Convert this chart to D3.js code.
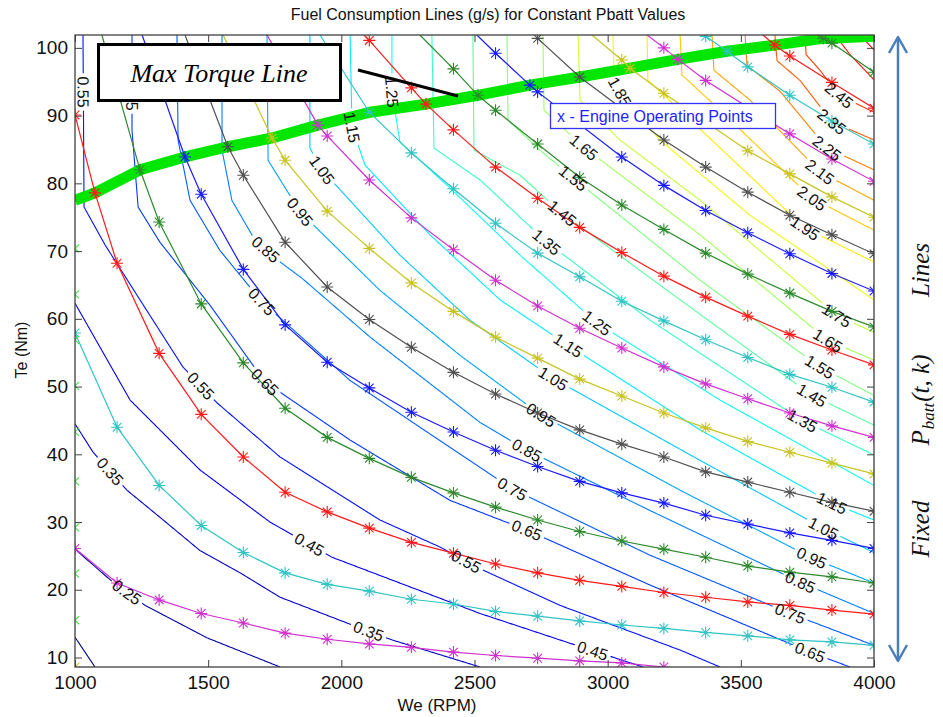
<!DOCTYPE html>
<html>
<head>
<meta charset="utf-8">
<script src="https://cdn.jsdelivr.net/npm/d3@7"></script>
<style>
  body { margin: 0; background: #fff; }
  svg { display: block; font-family: "Liberation Sans", Arial, sans-serif; }
</style>
</head>
<body>
<svg id="chart" width="943" height="717"></svg>
<script>
// ---------------- data ----------------
// Axis ticks
const xTicks = [1000, 1500, 2000, 2500, 3000, 3500, 4000];
const yTicks = [10, 20, 30, 40, 50, 60, 70, 80, 90, 100];

// Iso fuel-consumption contour levels (g/s) and their traced polylines [We, Te]
const contourLevels = [0.15, 0.25, 0.35, 0.45, 0.55, 0.65, 0.75, 0.85, 0.95, 1.05, 1.15, 1.25, 1.35,
  1.45, 1.55, 1.65, 1.75, 1.85, 1.95, 2.05, 2.15, 2.25, 2.35, 2.45, 2.55, 2.65];
const contourLines = [
  [[1000, 13.0], [1075, 8.6]],
  [[1000, 26.0], [1143, 21.1], [1263, 17.7], [1496, 12.9], [1770, 8.6]],
  [[1000, 44.5], [1068, 40.3], [1195, 34.7], [1319, 30.7], [1469, 25.8], [1620, 22.5], [1770, 18.9], [2021, 15.1], [2190, 12.6], [2521, 8.6]],
  [[1000, 62.3], [1207, 48.0], [1469, 37.7], [1732, 30.0], [1965, 24.8], [2521, 16.5], [2859, 12.1], [3133, 8.6]],
  [[1030, 101.9], [1034, 76.5], [1113, 70.9], [1244, 62.8], [1405, 52.9], [1533, 47.6], [1770, 39.6], [2145, 30.3], [2371, 26.3], [2510, 23.3], [2821, 17.7], [3272, 11.1], [3422, 8.6]],
  [[1214, 101.9], [1214, 87.9], [1237, 76.5], [1319, 71.3], [1507, 62.0], [1713, 50.7], [2033, 42.1], [2408, 33.2], [2697, 28.8], [3159, 20.7], [3760, 10.8], [3910, 8.6]],
  [[1383, 101.9], [1387, 86.4], [1432, 77.5], [1544, 70.1], [1702, 62.5], [2033, 50.9], [2641, 34.9], [3159, 25.1], [3685, 16.5], [4000, 11.8]],
  [[1552, 101.9], [1552, 84.9], [1589, 77.5], [1676, 71.6], [1770, 68.4], [1852, 66.0], [2108, 57.3], [2521, 44.7], [2697, 40.6], [3159, 31.7], [3730, 21.0], [4000, 16.5]],
  [[1721, 101.9], [1725, 83.4], [1845, 75.8], [2145, 64.2], [2446, 54.6], [2750, 45.8], [3272, 34.7], [3767, 24.7], [4000, 21.0]],
  [[1882, 101.9], [1882, 85.2], [1927, 82.0], [2220, 69.4], [2483, 59.8], [2795, 51.2], [3347, 39.1], [3809, 29.1], [4000, 25.5]],
  [[2033, 101.9], [2040, 88.3], [2089, 82.7], [2333, 72.4], [2596, 62.8], [2851, 56.1], [3347, 43.6], [3842, 32.8], [4000, 30.3]],
  [[2190, 101.9], [2190, 93.5], [2220, 86.1], [2408, 79.3], [2671, 69.4], [2960, 59.4], [3422, 48.0], [4000, 35.4]],
  [[2340, 101.9], [2348, 85.2], [2521, 80.5], [2772, 71.3], [3159, 59.8], [3730, 45.0], [4000, 39.9]],
  [[2494, 101.9], [2498, 84.9], [2671, 81.2], [2829, 75.6], [3272, 62.8], [3767, 48.7], [4000, 44.3]],
  [[2622, 101.9], [2626, 89.3], [2746, 84.9], [2870, 80.8], [3347, 65.7], [3797, 52.9], [4000, 48.7]],
  [[2757, 101.9], [2761, 90.8], [2840, 87.9], [2911, 85.3], [3347, 72.4], [3827, 56.8], [4000, 53.9]],
  [[2889, 101.9], [2896, 92.3], [3046, 86.4], [3347, 77.5], [3861, 60.5], [4000, 58.0]],
  [[3020, 101.9], [3024, 96.0], [3046, 93.5], [3196, 86.4], [3534, 75.3], [4000, 62.8]],
  [[3148, 101.9], [3151, 95.2], [3272, 90.8], [3741, 73.4], [4000, 68.4]],
  [[3272, 101.9], [3279, 96.0], [3422, 90.8], [3767, 77.8], [4000, 73.1]],
  [[3392, 101.9], [3399, 96.7], [3534, 92.3], [3797, 81.7], [4000, 77.5]],
  [[3516, 101.9], [3523, 97.4], [3647, 93.6], [3824, 85.2], [4000, 82.0]],
  [[3628, 101.9], [3636, 98.1], [3722, 95.2], [3842, 89.1], [4000, 86.4]],
  [[3741, 101.9], [3745, 99.0], [3797, 96.7], [3869, 93.0], [4000, 90.5]],
  [[3854, 101.9], [3910, 99.0], [4000, 95.3]],
  [[3947, 101.9], [4000, 99.7]]
];
// Inline contour labels: [level, We, Te]
const contourLabels = [
  [0.25, 1195, 19.6],
  [0.35, 1131, 37.5], [0.35, 2100, 13.7],
  [0.45, 1879, 26.6], [0.45, 2945, 11.1],
  [0.55, 1038, 93.5], [0.55, 1469, 49.9], [0.55, 2476, 24.8],
  [0.65, 1214, 93.0], [0.65, 1713, 50.6], [0.65, 2697, 28.8], [0.65, 3760, 10.8],
  [0.75, 1702, 62.5], [0.75, 2641, 34.9], [0.75, 3685, 16.5],
  [0.85, 1700, 69.6], [0.85, 2697, 40.6], [0.85, 3722, 21.0],
  [0.95, 1845, 75.8], [0.95, 2750, 45.8], [0.95, 3767, 24.7],
  [1.05, 1927, 82.0], [1.05, 2795, 51.2], [1.05, 3809, 29.1],
  [1.15, 2040, 88.3], [1.15, 2851, 56.1], [1.15, 3842, 32.8],
  [1.25, 2190, 93.5], [1.25, 2960, 59.4],
  [1.35, 2772, 71.3], [1.35, 3730, 45.0],
  [1.45, 2829, 75.6], [1.45, 3767, 48.7],
  [1.55, 2870, 80.8], [1.55, 3797, 52.9],
  [1.65, 2911, 85.3], [1.65, 3827, 56.8],
  [1.75, 3861, 60.5],
  [1.85, 3046, 93.5],
  [1.95, 3741, 73.4],
  [2.05, 3767, 77.8],
  [2.15, 3797, 81.7],
  [2.25, 3824, 85.2],
  [2.35, 3842, 89.1],
  [2.45, 3869, 93.0]
];

// Maximum torque curve [We, Te]
const maxTorqueWe = [1000, 1075, 1244, 1413, 1574, 1740, 1912, 2108, 2318, 2513, 2708, 2896, 3084, 3264, 3448, 3628, 3809, 4000];
const maxTorqueTe = [77.5, 78.6, 82.0, 83.9, 85.4, 86.7, 88.6, 90.5, 91.7, 93.0, 94.5, 95.7, 97.0, 98.3, 99.5, 100.4, 101.4, 101.7];

// Engine operating points along each fixed-Pbatt line [We, Te]
const pb01 = [[1000, 26.1], [1158, 21.0], [1316, 18.5], [1474, 16.5], [1632, 15.1], [1789, 13.6], [1947, 12.7], [2105, 12.0], [2263, 11.5], [2421, 10.8], [2579, 10.3], [2737, 9.9], [2895, 9.5], [3053, 9.2], [3211, 8.6]];
const pb02 = [[1000, 57.9], [1158, 44.0], [1316, 35.4], [1474, 29.5], [1632, 25.5], [1789, 22.5], [1947, 20.8], [2105, 19.8], [2263, 18.6], [2421, 17.9], [2579, 16.8], [2737, 16.1], [2895, 15.4], [3053, 14.8], [3211, 14.3], [3368, 13.7], [3526, 13.2], [3684, 12.6], [3842, 12.3], [4000, 11.8]];
const pb03 = [[1000, 90.1], [1075, 78.6], [1158, 68.2], [1316, 54.9], [1474, 45.9], [1632, 39.6], [1789, 34.4], [1947, 31.5], [2105, 29.1], [2263, 27.0], [2421, 25.4], [2579, 23.8], [2737, 22.5], [2895, 21.4], [3053, 20.5], [3211, 19.6], [3368, 18.9], [3526, 18.2], [3684, 17.7], [3842, 17.0], [4000, 16.4]];
const pb04 = [[1244, 82.0], [1316, 74.3], [1474, 62.2], [1632, 53.5], [1789, 46.8], [1947, 42.5], [2105, 39.4], [2263, 36.6], [2421, 34.3], [2579, 32.2], [2737, 30.3], [2895, 28.6], [3053, 27.2], [3211, 26.0], [3368, 24.8], [3526, 23.5], [3684, 22.6], [3842, 21.9], [4000, 21.0]];
const pb05 = [[1413, 83.9], [1474, 78.4], [1632, 67.3], [1789, 59.1], [1947, 53.6], [2105, 49.8], [2263, 46.2], [2421, 43.3], [2579, 40.6], [2737, 38.2], [2895, 36.0], [3053, 34.3], [3211, 32.8], [3368, 31.0], [3526, 29.7], [3684, 28.4], [3842, 27.3], [4000, 26.1]];
const pb06 = [[1574, 85.4], [1632, 81.2], [1789, 71.3], [1947, 64.7], [2105, 59.9], [2263, 55.8], [2421, 52.1], [2579, 48.9], [2737, 46.1], [2895, 43.6], [3053, 41.5], [3211, 39.6], [3368, 37.4], [3526, 35.9], [3684, 34.4], [3842, 32.9], [4000, 31.6]];
const pb07 = [[1740, 86.7], [1789, 83.4], [1947, 75.9], [2105, 70.4], [2263, 65.3], [2421, 61.1], [2579, 57.3], [2737, 54.2], [2895, 51.1], [3053, 48.6], [3211, 46.1], [3368, 43.9], [3526, 41.9], [3684, 40.3], [3842, 38.7], [4000, 37.1]];
const pb08 = [[1912, 88.6], [1947, 87.0], [2105, 80.5], [2263, 74.9], [2421, 70.2], [2579, 65.7], [2737, 61.9], [2895, 58.6], [3053, 55.7], [3211, 52.9], [3368, 50.4], [3526, 48.2], [3684, 46.1], [3842, 44.2], [4000, 42.5]];
const pb09 = [[2105, 90.5], [2263, 84.5], [2421, 79.2], [2579, 74.1], [2737, 69.7], [2895, 66.2], [3053, 62.6], [3211, 59.7], [3368, 56.9], [3526, 54.3], [3684, 51.8], [3842, 49.9], [4000, 47.7]];
const pb10 = [[2105, 101.1], [2263, 94.1], [2318, 91.7], [2421, 87.9], [2579, 82.4], [2737, 77.8], [2895, 73.5], [3053, 69.8], [3211, 66.3], [3368, 63.2], [3526, 60.4], [3684, 57.7], [3842, 55.4], [4000, 53.2]];
const pb11 = [[2421, 96.9], [2513, 93.0], [2579, 90.8], [2737, 85.8], [2895, 80.9], [3053, 76.8], [3211, 73.2], [3368, 69.7], [3526, 66.6], [3684, 63.8], [3842, 61.1], [4000, 58.8]];
const pb12 = [[2579, 99.2], [2708, 94.5], [2737, 93.5], [3053, 83.9], [3211, 79.7], [3368, 76.0], [3526, 72.7], [3684, 69.6], [3842, 66.7], [4000, 64.1]];
const pb13 = [[2737, 101.4], [2895, 95.7], [3211, 86.4], [3368, 82.4], [3526, 78.7], [3684, 75.3], [3842, 72.4], [4000, 69.6]];
const pb14 = [[3053, 98.2], [3084, 97.0], [3211, 93.3], [3526, 84.8], [3684, 81.4], [3842, 78.0], [4000, 75.0]];
const pb15 = [[3211, 100.0], [3264, 98.3], [3368, 95.2], [3684, 87.3], [3842, 83.6], [4000, 80.3]];
const pb16 = [[3368, 101.7], [3448, 99.5], [3526, 97.2], [3684, 93.0], [3842, 89.2], [4000, 85.8]];
const pb17 = [[3628, 100.4], [3684, 98.8], [3842, 94.9], [4000, 91.1]];
const pb18 = [[3809, 101.4], [3842, 100.7], [4000, 96.4]];
const pbattLines = [pb01, pb02, pb03, pb04, pb05, pb06, pb07, pb08, pb09, pb10, pb11, pb12, pb13, pb14, pb15, pb16, pb17, pb18];
// Speed (RPM) at which each line leaves the top of the map, null when it starts at a point
const pbattTopWe = [null, null, null, 1101, 1252, 1413, 1556, 1721, 1920, 2085, 2295, 2509, null, 2941, 3148, null, 3583, 3786];

// Idle-speed operating points at 1000 RPM
const idleTe = [70.4, 63.6, 56.9, 50.1, 43.3, 36.0, 29.2, 22.4, 15.5];
const idleYellowTe = [8.6];

// ---------------- layout ----------------
const W = 943, H = 717;
const P = { left: 75, right: 874, top: 35, bottom: 667 };
const x = d3.scaleLinear().domain([1000, 4000]).range([P.left, P.right]);
const y = d3.scaleLinear().domain([8.6, 101.9]).range([P.bottom, P.top]);
const yMax = y.domain()[1];

const svg = d3.select('#chart');
svg.append('rect').attr('width', W).attr('height', H).attr('fill', '#fff');

svg.append('defs').append('clipPath').attr('id', 'plotClip')
  .append('rect').attr('x', P.left).attr('y', P.top)
  .attr('width', P.right - P.left).attr('height', P.bottom - P.top);

const plot = svg.append('g').attr('clip-path', 'url(#plotClip)');
const contourLayer = plot.append('g');
const torqueLayer = plot.append('g');
const pbLayer = plot.append('g');
const labelLayer = plot.append('g');

// MATLAB "jet" colormap
function jet(t) {
  t = Math.max(0, Math.min(1, t));
  const c = v => Math.round(255 * Math.max(0, Math.min(1, v)));
  return `rgb(${c(1.5 - Math.abs(4 * t - 3))},${c(1.5 - Math.abs(4 * t - 2))},${c(1.5 - Math.abs(4 * t - 1))})`;
}
const levelScale = d3.scaleLinear().domain([0.15, 2.95]).range([0, 1]);

const lineGen = d3.line().x(d => x(d[0])).y(d => y(d[1]));

// ---------------- contours with inline labels ----------------
contourLines.forEach((pts, i) => {
  const lvl = contourLevels[i];
  const color = jet(levelScale(lvl));
  const tmp = contourLayer.append('path').attr('d', lineGen(pts)).attr('fill', 'none');
  const node = tmp.node();
  const len = node.getTotalLength();
  const samples = [];
  for (let s = 0; s < len; s += 0.75) {
    const p = node.getPointAtLength(s);
    samples.push([p.x, p.y]);
  }
  const end = node.getPointAtLength(len);
  samples.push([end.x, end.y]);
  tmp.remove();

  const gaps = [];
  contourLabels.filter(l => l[0] === lvl).forEach(l => {
    const px = x(l[1]), py = y(l[2]);
    let bi = 0, bd = Infinity;
    samples.forEach((s, k) => {
      const dd = (s[0] - px) ** 2 + (s[1] - py) ** 2;
      if (dd < bd) { bd = dd; bi = k; }
    });
    const a = samples[Math.max(0, bi - 8)], b = samples[Math.min(samples.length - 1, bi + 8)];
    let ang = Math.atan2(b[1] - a[1], b[0] - a[0]) * 180 / Math.PI;
    if (ang > 90) ang -= 180;
    if (ang <= -90) ang += 180;
    const c = samples[bi];
    const t = labelLayer.append('text')
      .attr('transform', `translate(${c[0]},${c[1]}) rotate(${ang})`)
      .attr('text-anchor', 'middle').attr('dy', '0.36em')
      .attr('font-size', 16).attr('fill', '#111')
      .text(d3.format('.2f')(lvl));
    gaps.push({ c, r: t.node().getComputedTextLength() / 2 + 3 });
  });

  const segs = [];
  let seg = [];
  samples.forEach(s => {
    const inGap = gaps.some(g => Math.hypot(s[0] - g.c[0], s[1] - g.c[1]) < g.r);
    if (inGap) { if (seg.length > 1) segs.push(seg); seg = []; }
    else seg.push(s);
  });
  if (seg.length > 1) segs.push(seg);
  segs.forEach(sg => contourLayer.append('path')
    .attr('d', d3.line()(sg)).attr('fill', 'none')
    .attr('stroke', color).attr('stroke-width', 1.1));
});

// ---------------- maximum torque curve ----------------
torqueLayer.append('path')
  .attr('d', lineGen(maxTorqueWe.map((w, i) => [w, maxTorqueTe[i]])))
  .attr('fill', 'none').attr('stroke', '#00e600').attr('stroke-width', 11)
  .attr('stroke-linejoin', 'round');

// ---------------- fixed Pbatt lines with operating points ----------------
const pbColors = ['#d030d0', '#30c4c4', '#ff1a1a', '#2b8a2b', '#1a1aff', '#505050', '#c8c41e'];
const starPath = r => {
  const a = r * 0.72;
  return `M${-r},0H${r}M0,${-r}V${r}M${-a},${-a}L${a},${a}M${-a},${a}L${a},${-a}`;
};
pbattLines.forEach((pts, i) => {
  const col = pbColors[i % pbColors.length];
  const full = pbattTopWe[i] != null ? [[pbattTopWe[i], yMax], ...pts] : pts;
  pbLayer.append('path').attr('d', lineGen(full)).attr('fill', 'none')
    .attr('stroke', col).attr('stroke-width', 1.2);
  pbLayer.selectAll(null).data(pts).enter().append('path')
    .attr('transform', d => `translate(${x(d[0])},${y(d[1])})`)
    .attr('d', starPath(6)).attr('fill', 'none')
    .attr('stroke', col).attr('stroke-width', 1.1);
});

// idle operating points
pbLayer.selectAll(null).data(idleTe).enter().append('path')
  .attr('transform', d => `translate(${x(1000)},${y(d)})`)
  .attr('d', 'M-4,-4L4,4M-4,4L4,-4').attr('stroke', '#3ee83e').attr('stroke-width', 1.1);
pbLayer.selectAll(null).data(idleYellowTe).enter().append('path')
  .attr('transform', d => `translate(${x(1000)},${y(d)})`)
  .attr('d', starPath(6)).attr('fill', 'none').attr('stroke', '#c8c41e').attr('stroke-width', 1.1);

// ---------------- axes ----------------
const axisG = svg.append('g').attr('font-family', '"Liberation Sans", Arial, sans-serif');
const styleAxis = g => {
  g.select('.domain').remove();
  g.selectAll('.tick line').attr('stroke', '#404040').attr('stroke-width', 1);
  g.selectAll('.tick text').attr('fill', '#111').attr('font-size', 19);
};
axisG.append('g').attr('transform', `translate(0,${P.bottom})`)
  .call(d3.axisBottom(x).tickValues(xTicks).tickSize(-7).tickPadding(9).tickFormat(d3.format('d')))
  .call(styleAxis);
axisG.append('g').attr('transform', `translate(0,${P.top})`)
  .call(d3.axisTop(x).tickValues(xTicks).tickSize(-7).tickFormat(''))
  .call(styleAxis);
axisG.append('g').attr('transform', `translate(${P.left},0)`)
  .call(d3.axisLeft(y).tickValues(yTicks).tickSize(-7).tickPadding(7).tickFormat(d3.format('d')))
  .call(styleAxis);
axisG.append('g').attr('transform', `translate(${P.right},0)`)
  .call(d3.axisRight(y).tickValues(yTicks).tickSize(-7).tickFormat(''))
  .call(styleAxis);
svg.append('rect').attr('x', P.left).attr('y', P.top)
  .attr('width', P.right - P.left).attr('height', P.bottom - P.top)
  .attr('fill', 'none').attr('stroke', '#404040').attr('stroke-width', 1.3);

// titles
svg.append('text').attr('x', 488).attr('y', 20).attr('text-anchor', 'middle')
  .attr('font-size', 16).attr('fill', '#111')
  .text('Fuel Consumption Lines (g/s) for Constant Pbatt Values');
svg.append('text').attr('x', 437).attr('y', 711).attr('text-anchor', 'middle')
  .attr('font-size', 17).attr('fill', '#111').text('We (RPM)');
svg.append('text').attr('transform', 'translate(27,350) rotate(-90)').attr('text-anchor', 'middle')
  .attr('font-size', 16).attr('fill', '#111').text('Te (Nm)');

// ---------------- annotations ----------------
const ann = svg.append('g');
ann.append('rect').attr('x', 98.5).attr('y', 44.5).attr('width', 242).attr('height', 56)
  .attr('fill', '#fff').attr('stroke', '#000').attr('stroke-width', 3);
ann.append('text').attr('x', 219).attr('y', 82).attr('text-anchor', 'middle')
  .attr('font-family', '"Liberation Serif", "Times New Roman", serif').attr('font-style', 'italic')
  .attr('font-size', 26).attr('fill', '#000').text('Max Torque Line');
ann.append('line').attr('x1', 358).attr('y1', 70).attr('x2', 458).attr('y2', 96)
  .attr('stroke', '#000').attr('stroke-width', 3);

ann.append('rect').attr('x', 550.5).attr('y', 103.5).attr('width', 225).attr('height', 25)
  .attr('fill', '#fff').attr('stroke', '#3333ff').attr('stroke-width', 1.3);
ann.append('text').attr('x', 557).attr('y', 122).attr('font-size', 16).attr('fill', '#1f1fff')
  .text('x - Engine Operating Points');

// double-headed arrow and side caption
const arrowColor = '#4a7ebb';
ann.append('line').attr('x1', 898).attr('y1', 38).attr('x2', 898).attr('y2', 660)
  .attr('stroke', arrowColor).attr('stroke-width', 2.5);
ann.append('path').attr('d', 'M889,53L898,37L907,53M889,645L898,661L907,645')
  .attr('fill', 'none').attr('stroke', arrowColor).attr('stroke-width', 2.5).attr('stroke-linejoin', 'round');

const serif = '"Liberation Serif", "Times New Roman", serif';
const sideText = (cy, build) => {
  const t = ann.append('text').attr('transform', `translate(929,${cy}) rotate(-90)`)
    .attr('text-anchor', 'middle').attr('font-family', serif)
    .attr('font-style', 'italic').attr('font-size', 25).attr('fill', '#111');
  build(t);
};
sideText(529, t => t.text('Fixed'));
sideText(400, t => {
  t.append('tspan').text('P');
  t.append('tspan').attr('font-size', 17).attr('dy', 5).attr('dx', 1).text('batt');
  t.append('tspan').attr('dy', -5).attr('dx', 1).text('(t, k)');
});
sideText(270, t => t.text('Lines'));
</script>
</body>
</html>
